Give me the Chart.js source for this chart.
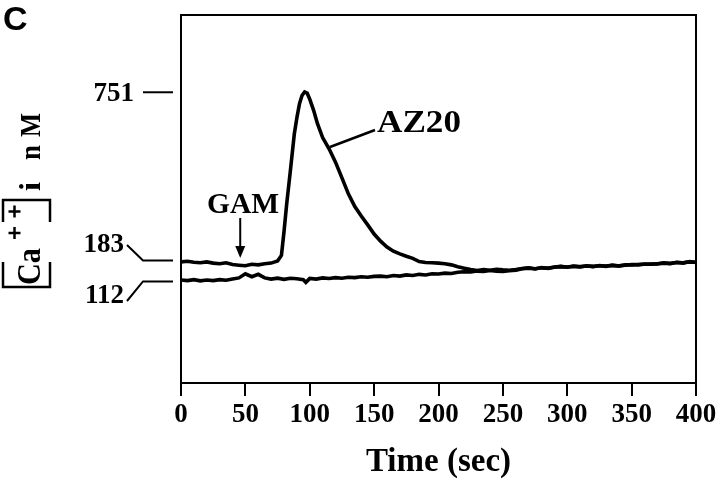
<!DOCTYPE html>
<html>
<head>
<meta charset="utf-8">
<script src="https://cdn.jsdelivr.net/npm/chart.js@4.4.1/dist/chart.umd.min.js"></script>
<style>
  body { margin: 0; background: #fff; }
</style>
</head>
<body>
<canvas id="calciumChart" width="720" height="498"></canvas>
<script>
// time axis (sec) and [Ca++]i (nM)
const timeAZ20 = [
  0, 5, 10, 15, 20, 25, 30, 35, 40, 45,
  50, 55, 60, 65, 70, 75, 78, 80, 82, 85,
  88, 90, 92, 94, 96, 98, 100, 103, 106, 110,
  115, 120, 125, 130, 135, 140, 145, 150, 155, 160,
  165, 170, 175, 180, 185, 190, 195, 200, 205, 210,
  215, 220, 225, 230, 235, 240, 245, 250, 255, 260,
  265, 270, 275, 280, 285, 290, 295, 300, 305, 310,
  315, 320, 325, 330, 335, 340, 345, 350, 355, 360,
  365, 370, 375, 380, 385, 390, 395, 400
];
const caAZ20 = [
  178, 180, 177, 175, 178, 174, 172, 175, 169, 167,
  165, 170, 168, 172, 174, 181, 200, 280, 370, 488,
  610, 665, 712, 740, 752, 748, 728, 690, 645, 598,
  560, 515, 462, 408, 365, 333, 303, 272, 248, 228,
  214, 205, 197, 190, 179, 176, 175, 174, 172, 168,
  162, 157, 152, 149, 152, 150, 153, 151, 150, 152,
  156, 158, 154, 159, 156, 161, 163, 160, 164, 161,
  165, 162, 166, 163, 167, 164, 168, 168, 169, 170,
  171, 171, 175, 172, 177, 174, 179, 176
];

const timeCtrl = [
  0, 5, 10, 15, 20, 25, 30, 35, 40, 45,
  50, 55, 60, 65, 70, 75, 80, 85, 90, 95,
  97,
  100, 105, 110, 115, 120, 125, 130, 135, 140, 145,
  150, 155, 160, 165, 170, 175, 180, 185, 190, 195,
  200, 205, 210, 215, 220, 225, 230, 235, 240, 245,
  250, 255, 260, 265, 270, 275, 280, 285, 290, 295,
  300, 305, 310, 315, 320, 325, 330, 335, 340, 345,
  350, 355, 360, 365, 370, 375, 380, 385, 390, 395,
  400
];
const caCtrl = [
  117, 115, 118, 114, 117, 115, 118, 116, 120, 124,
  138, 128, 136, 124, 120, 123, 119, 123, 121, 118,
  109,
  122, 120, 124, 122, 125, 123, 126, 125, 128, 126,
  129, 130, 128, 132, 130, 134, 132, 136, 134, 138,
  137, 140, 139, 143, 145, 144, 147, 146, 149, 147,
  146, 148, 150, 155, 157, 155, 158, 157, 160, 162,
  161, 163, 162, 164, 163, 165, 164, 166, 165, 167,
  169, 168, 171, 170, 172, 174, 173, 176, 175, 178,
  177
];

const yMarks = [751, 183, 112];
const xTicks = [0, 50, 100, 150, 200, 250, 300, 350, 400];
const gamTime = 46;

const serif = '"Liberation Serif", "Times New Roman", serif';

function seg(ctx, pts) {
  ctx.beginPath();
  pts.forEach((p, i) => i ? ctx.lineTo(p[0], p[1]) : ctx.moveTo(p[0], p[1]));
  ctx.stroke();
}

// text squeezed/stretched into a given width
function fitText(ctx, txt, x, y, w) {
  const m = ctx.measureText(txt).width;
  ctx.save();
  ctx.translate(x, y);
  ctx.scale(w / m, 1);
  ctx.fillText(txt, 0, 0);
  ctx.restore();
}

const decor = {
  id: 'decor',
  afterDraw(chart) {
    const { ctx, chartArea: a, scales: { x, y } } = chart;
    const py = v => y.getPixelForValue(v);
    ctx.save();
    ctx.strokeStyle = '#000';
    ctx.fillStyle = '#000';
    ctx.lineWidth = 2;
    ctx.strokeRect(a.left, a.top, a.right - a.left, a.bottom - a.top);

    // panel letter
    ctx.font = 'bold 34px "Liberation Sans", Arial, sans-serif';
    ctx.textAlign = 'left';
    ctx.textBaseline = 'alphabetic';
    ctx.fillText('C', 3, 30);

    // y value marks with leaders
    ctx.font = 'bold 27px ' + serif;
    ctx.textAlign = 'right';
    ctx.fillText(String(yMarks[0]), 134, py(yMarks[0]) + 9);
    seg(ctx, [[143, py(yMarks[0])], [173, py(yMarks[0])]]);
    ctx.fillText(String(yMarks[1]), 124, 252);
    seg(ctx, [[127, 245], [143, py(yMarks[1])], [173, py(yMarks[1])]]);
    ctx.fillText(String(yMarks[2]), 124, 303);
    seg(ctx, [[127, 301], [143, py(yMarks[2])], [173, py(yMarks[2])]]);

    // GAM arrow
    const gx = x.getPixelForValue(gamTime);
    ctx.font = 'bold 29px ' + serif;
    ctx.textAlign = 'left';
    fitText(ctx, 'GAM', 207, 213, 72);
    ctx.lineWidth = 2;
    seg(ctx, [[gx, 218], [gx, 250]]);
    ctx.beginPath();
    ctx.moveTo(gx - 5, 246);
    ctx.lineTo(gx + 5, 246);
    ctx.lineTo(gx, 258);
    ctx.closePath();
    ctx.fill();

    // AZ20 label
    ctx.font = 'bold 31px ' + serif;
    fitText(ctx, 'AZ20', 377, 132, 84);
    ctx.lineWidth = 2.5;
    seg(ctx, [[330, 147], [375, 130]]);

    // y axis title: [Ca++]i nM
    ctx.lineWidth = 2.5;
    seg(ctx, [[3, 262], [3, 287], [50, 287], [50, 262]]);
    seg(ctx, [[3, 222], [3, 200], [50, 200], [50, 222]]);
    seg(ctx, [[8.5, 211.5], [20.5, 211.5]]);
    seg(ctx, [[14.5, 205.5], [14.5, 217.5]]);
    seg(ctx, [[8.5, 233], [20.5, 233]]);
    seg(ctx, [[14.5, 227], [14.5, 239]]);
    ctx.save();
    ctx.translate(40, 288);
    ctx.rotate(-Math.PI / 2);
    ctx.textAlign = 'left';
    ctx.font = 'bold 34px ' + serif;
    fitText(ctx, 'Ca', 3, 0, 37);
    ctx.font = 'bold 30px ' + serif;
    fitText(ctx, 'i', 97, 0, 9);
    fitText(ctx, 'n', 128, 0, 15);
    fitText(ctx, 'M', 151, 0, 24);
    ctx.restore();

    ctx.restore();
  }
};

new Chart(document.getElementById('calciumChart'), {
  type: 'line',
  data: {
    datasets: [
      {
        label: 'AZ20',
        data: timeAZ20.map((t, i) => ({ x: t, y: caAZ20[i] })),
        borderColor: '#000',
        borderWidth: 3.6,
        pointRadius: 0,
        tension: 0
      },
      {
        label: 'control',
        data: timeCtrl.map((t, i) => ({ x: t, y: caCtrl[i] })),
        borderColor: '#000',
        borderWidth: 3.6,
        pointRadius: 0,
        tension: 0
      }
    ]
  },
  options: {
    responsive: false,
    animation: false,
    layout: { padding: { left: 181, right: 24, top: 15, bottom: 0 } },
    plugins: { legend: { display: false }, tooltip: { enabled: false } },
    scales: {
      x: {
        type: 'linear',
        min: 0,
        max: 400,
        afterBuildTicks: s => { s.ticks = xTicks.map(v => ({ value: v })); },
        afterFit: s => { s.height = 115; },
        ticks: {
          color: '#000',
          font: { family: serif, size: 27, weight: 'bold' },
          padding: 3,
          maxRotation: 0,
          autoSkip: false
        },
        grid: { drawOnChartArea: false, color: '#000', lineWidth: 2, tickLength: 13 },
        border: { color: '#000', width: 2 },
        title: {
          display: true,
          text: 'Time (sec)',
          color: '#000',
          font: { family: serif, size: 33, weight: 'bold' },
          padding: { top: 0, bottom: 16 }
        }
      },
      y: { type: 'linear', min: -231, max: 1012, display: false }
    }
  },
  plugins: [decor]
});
</script>
</body>
</html>
